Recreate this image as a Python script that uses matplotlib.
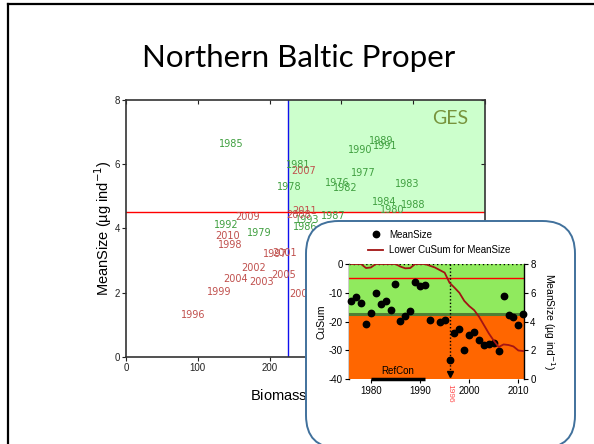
import numpy as np
import matplotlib
matplotlib.use("Agg")
import matplotlib.pyplot as plt
from matplotlib.patches import FancyBboxPatch, Rectangle
from matplotlib.lines import Line2D

# ---------------- data ----------------
years = [1976, 1977, 1978, 1979, 1980, 1981, 1982, 1983, 1984, 1985,
         1986, 1987, 1988, 1989, 1990, 1991, 1992, 1993, 1994, 1995,
         1996, 1997, 1998, 1999, 2000, 2001, 2002, 2003, 2004, 2005,
         2006, 2007, 2008, 2009, 2010, 2011]

# biomass for 1995 not available
biomass = [294, 330, 227, 185, 371, 240, 306, 391, 359, 147,
           249, 289, 400, 356, 326, 361, 139, 252, 345, np.nan,
           94, 208, 145, 130, 290, 221, 178, 189, 153, 220,
           244, 248, 240, 170, 142, 248]

mean_size = [5.43, 5.72, 5.29, 3.87, 4.57, 5.97, 5.25, 5.40, 4.82, 6.63,
             4.05, 4.38, 4.72, 6.72, 6.45, 6.56, 4.12, 4.27, 3.99, 4.14,
             1.31, 3.20, 3.48, 2.01, 3.08, 3.25, 2.76, 2.35, 2.43, 2.55,
             1.96, 5.78, 4.43, 4.35, 3.76, 4.55]

lower_cusum = [0, 0, 0, -1.4, -1.2, 0, 0, 0, 0, 0,
               -0.9, -1.5, -1.4, 0, 0, 0, -0.6, -1.2, -2.1, -3.0,
               -6.5, -8.2, -10.0, -12.8, -14.6, -16.0, -18.3, -21.2, -24.1, -26.6,
               -28.8, -27.9, -28.1, -28.6, -30.0, -30.2]

no_series_value = [1993]          # year without a MeanSize point in the CuSum panel
shift_year = 1996
ges_biomass = 225
ges_meansize = 4.5
cusum_limit = -5
refcon_years = (1980, 1991)

GREEN_TXT = "#3f9f3f"
RED_TXT = "#c0504d"

# ---------------- figure ----------------
W, H = 594, 444
fig = plt.figure(figsize=(W / 100, H / 100), dpi=100)
fig.patch.set_facecolor("white")


def fx(px):
    return px / W


def fy(py):
    return 1 - py / H


# slide frame
fig.add_artist(Line2D([fx(8), fx(8)], [fy(4), 0], color="black", lw=1.6,
                      transform=fig.transFigure))
fig.add_artist(Line2D([fx(8), 1], [fy(4), fy(4)], color="black", lw=1.6,
                      transform=fig.transFigure))

fig.text(fx(299), fy(67), "Northern Baltic Proper", family="Lato", fontsize=22.5,
         ha="center", va="baseline", color="black")

# ---------------- main scatter ----------------
ax = fig.add_axes([fx(126), fy(357), fx(485) - fx(126), fy(100) - fy(357)])
ax.set_xlim(0, 500)
ax.set_ylim(0, 8)
ax.add_patch(Rectangle((ges_biomass, ges_meansize), 500 - ges_biomass, 8 - ges_meansize,
                       facecolor="#ccffcc", edgecolor="none", zorder=0))
ax.axvline(ges_biomass, color="#1010ee", lw=1.0, zorder=1)
ax.axhline(ges_meansize, color="#ff0000", lw=1.0, zorder=1)
ax.text(477, 7.7, "GES", family="Lato", fontsize=14, color="#77933c",
        ha="right", va="top")

for yr, b, m in zip(years, biomass, mean_size):
    if np.isnan(b):
        continue
    col = GREEN_TXT if yr < shift_year else RED_TXT
    ax.text(b, m, str(yr), fontsize=7, color=col, ha="center", va="center",
            family="DejaVu Sans", zorder=2)

ax.set_xticks([0, 100, 200, 300, 400, 500])
ax.set_yticks([0, 2, 4, 6, 8])
for s in ax.spines.values():
    s.set_color("#333333")
    s.set_linewidth(1.2)
ax.tick_params(axis="both", which="major", direction="out", length=3, width=0.8,
               labelsize=7, pad=1.5, colors="#222222")
for lab in ax.get_xticklabels() + ax.get_yticklabels():
    lab.set_family("Liberation Sans")

# inward ticks on the top and right frame
top = ax.secondary_xaxis("top")
top.set_xticks([0, 100, 200, 300, 400, 500])
top.tick_params(direction="in", length=3, width=0.8, labeltop=False, colors="#222222")
rgt = ax.secondary_yaxis("right")
rgt.set_yticks([0, 2, 4, 6, 8])
rgt.tick_params(direction="in", length=3, width=0.8, labelright=False, colors="#222222")
for sec in (top, rgt):
    for s in sec.spines.values():
        s.set_visible(False)

ax.set_xlabel("Biomass (µg l$^{-1}$)", family="Liberation Sans", fontsize=10.5,
              labelpad=8)
fig.text(fx(103), fy(228), "MeanSize (µg ind$^{-1}$)", family="Liberation Sans",
         fontsize=10.5, rotation=90, ha="center", va="center")

# ---------------- inset panel ----------------
box = FancyBboxPatch((fx(306), fy(448)), fx(575) - fx(306), fy(221) - fy(448),
                     boxstyle="round,pad=0,rounding_size=0.055",
                     transform=fig.transFigure, facecolor="white",
                     edgecolor="#41719c", lw=1.4, zorder=5,
                     mutation_aspect=W / H)
fig.add_artist(box)

cx = fig.add_axes([fx(349.3), fy(379.3), fx(524) - fx(349.3), fy(264) - fy(379.3)],
                  zorder=6)
cx.set_xlim(1975.6, 2011.15)
cx.set_ylim(-40, 0)
ms_ax = cx.twinx()
ms_ax.set_zorder(7)
ms_ax.set_ylim(0, 8)

# threshold-based background: good (green) above, bad (orange) below
ms_ax.add_patch(Rectangle((1975.6, ges_meansize), 40, 8 - ges_meansize,
                          facecolor="#90ea5e", edgecolor="none", zorder=0))
ms_ax.add_patch(Rectangle((1975.6, 0), 40, ges_meansize,
                          facecolor="#ff6600", edgecolor="none", zorder=0))
ms_ax.axhline(ges_meansize, color="#4f7f35", lw=2.2, zorder=1)
cx.patch.set_visible(False)

ms_ax.axhline((cusum_limit + 40) / 5, color="#ff0000", lw=1.0, zorder=2)
ms_ax.axhline(8, color="black", lw=1.0, ls=(0, (1, 2)), zorder=2)

# regime-shift marker
ms_ax.plot([shift_year, shift_year], [8, 0.3], color="black", lw=1.0,
           ls=(0, (1, 1.5)), zorder=3)
ms_ax.plot([shift_year], [0.35], marker="v", color="black", ms=4, zorder=3,
           clip_on=False)

# RefCon bar
ms_ax.plot(list(refcon_years), [0.05, 0.05], color="black", lw=2.5,
           solid_capstyle="butt", zorder=3, clip_on=False)
ms_ax.text(sum(refcon_years) / 2, 0.2, "RefCon", family="Liberation Sans",
           fontsize=7, ha="center", va="bottom", zorder=3)

# series
sx = [y for y in years if y not in no_series_value]
sy = [m for y, m in zip(years, mean_size) if y not in no_series_value]
ms_ax.plot(sx, sy, ls="none", marker="o", ms=4.6, color="black", zorder=4,
           clip_on=False)
cs_line, = ms_ax.plot(years, [(c + 40) / 5 for c in lower_cusum], color="#a31414",
                      lw=1.3, zorder=4)

# axes cosmetics
for a in (cx, ms_ax):
    for s in a.spines.values():
        s.set_visible(False)
cx.spines["left"].set_visible(True)
ms_ax.spines["right"].set_visible(True)
cx.spines["left"].set_linewidth(1.0)
ms_ax.spines["right"].set_linewidth(1.0)
cx.set_yticks([0, -10, -20, -30, -40])
cx.set_yticklabels(["0", "-10", "-20", "-30", "-40"])
ms_ax.set_yticks([0, 2, 4, 6, 8])
cx.set_xticks([1980, 1990, 2000, 2010])
for a in (cx, ms_ax):
    a.tick_params(direction="out", length=3, width=0.8, labelsize=7, pad=1.5)
    for lab in a.get_xticklabels() + a.get_yticklabels():
        lab.set_family("Liberation Sans")
cx.tick_params(axis="x", bottom=True)
cx.set_ylabel("CuSum", family="Liberation Sans", fontsize=7.5, labelpad=2)
ms_ax.set_ylabel("MeanSize (µg ind$^{-1}$)", family="Liberation Sans", fontsize=7.5,
                 rotation=-90, va="bottom", labelpad=4)
cx.text(shift_year, -41.5, str(shift_year), color="#ff5050", fontsize=6,
        rotation=-90, ha="center", va="top", family="Liberation Sans")

# legend
legend_handles = [
    Line2D([], [], ls="none", marker="o", ms=4.6, color="black"),
    Line2D([], [], color="#a31414", lw=1.3),
]
fig.legend(legend_handles, ["MeanSize", "Lower CuSum for MeanSize"],
           loc="upper left", bbox_to_anchor=(fx(364), fy(226)), frameon=False,
           prop={"family": "Liberation Sans", "size": 7}, handlelength=1.6,
           handletextpad=0.6, labelspacing=0.55, borderaxespad=0)
fig.legends[-1].set_zorder(8)

fig.savefig("out.png", dpi=100)
